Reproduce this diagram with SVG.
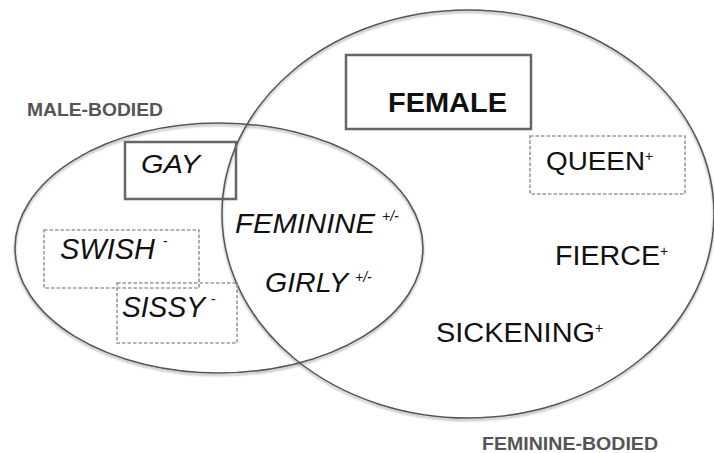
<svg xmlns="http://www.w3.org/2000/svg" width="714" height="453" viewBox="0 0 714 453">
<defs>
<filter id="sh" x="-10%" y="-10%" width="120%" height="120%">
<feDropShadow dx="0" dy="2" stdDeviation="1.2" flood-color="#000" flood-opacity="0.35"/>
</filter>
</defs>
<style>
.ell{fill:none;stroke:#555;stroke-width:1.5;filter:url(#sh)}
.solid{fill:none;stroke:#666;stroke-width:2.5}
.dash{fill:none;stroke:#999;stroke-width:1.6;stroke-dasharray:3.5 2}
.t{font-family:"Liberation Sans",Arial,sans-serif;fill:#111}
.i{font-style:italic}
.lab{font-family:"Liberation Sans",Arial,sans-serif;font-weight:bold;fill:#555;font-size:18px}
.sup{font-size:14px}
</style>
<rect width="714" height="453" fill="#fff"/>
<g id="connectors"></g>
<g id="male-bodied">
<ellipse class="ell" cx="219" cy="248" rx="204" ry="125"/>
<text class="lab" x="27" y="116" textLength="136" lengthAdjust="spacingAndGlyphs">MALE-BODIED</text>
</g>
<g id="feminine-bodied">
<ellipse class="ell" cx="468" cy="214" rx="246" ry="204"/>
<text class="lab" x="482" y="450" textLength="176" lengthAdjust="spacingAndGlyphs">FEMININE-BODIED</text>
</g>
<g id="gay">
<rect class="solid" x="125" y="142" width="111" height="57"/>
<text class="t i" x="141" y="173" font-size="25" textLength="59" lengthAdjust="spacingAndGlyphs">GAY</text>
</g>
<g id="swish">
<rect class="dash" x="44" y="230" width="155" height="58"/>
<text class="t i" x="60" y="259" font-size="29" textLength="95" lengthAdjust="spacingAndGlyphs">SWISH</text>
<text class="t sup" x="163" y="246">-</text>
</g>
<g id="sissy">
<rect class="dash" x="117" y="283" width="120" height="60"/>
<text class="t i" x="122" y="317" font-size="29" textLength="83" lengthAdjust="spacingAndGlyphs">SISSY</text>
<text class="t sup" x="211" y="304">-</text>
</g>
<g id="feminine">
<text class="t i" x="235" y="233" font-size="28" textLength="140" lengthAdjust="spacingAndGlyphs">FEMININE</text>
<text class="t i sup" x="382" y="221">+/-</text>
</g>
<g id="girly">
<text class="t i" x="265" y="292" font-size="28" textLength="83" lengthAdjust="spacingAndGlyphs">GIRLY</text>
<text class="t i sup" x="355" y="282">+/-</text>
</g>
<g id="female">
<rect class="solid" x="346" y="55" width="185" height="74"/>
<text class="t" x="388" y="112" font-size="28" font-weight="bold" textLength="119" lengthAdjust="spacingAndGlyphs">FEMALE</text>
</g>
<g id="queen">
<rect class="dash" x="530" y="136" width="155" height="58"/>
<text class="t" x="546" y="170" font-size="25" textLength="99" lengthAdjust="spacingAndGlyphs">QUEEN</text>
<text class="t sup" x="645" y="161" font-size="13">+</text>
</g>
<g id="fierce">
<text class="t" x="555" y="265" font-size="27" textLength="105" lengthAdjust="spacingAndGlyphs">FIERCE</text>
<text class="t sup" x="660" y="256" font-size="13">+</text>
</g>
<g id="sickening">
<text class="t" x="436" y="342" font-size="27" textLength="159" lengthAdjust="spacingAndGlyphs">SICKENING</text>
<text class="t sup" x="595" y="333" font-size="13">+</text>
</g>
</svg>
